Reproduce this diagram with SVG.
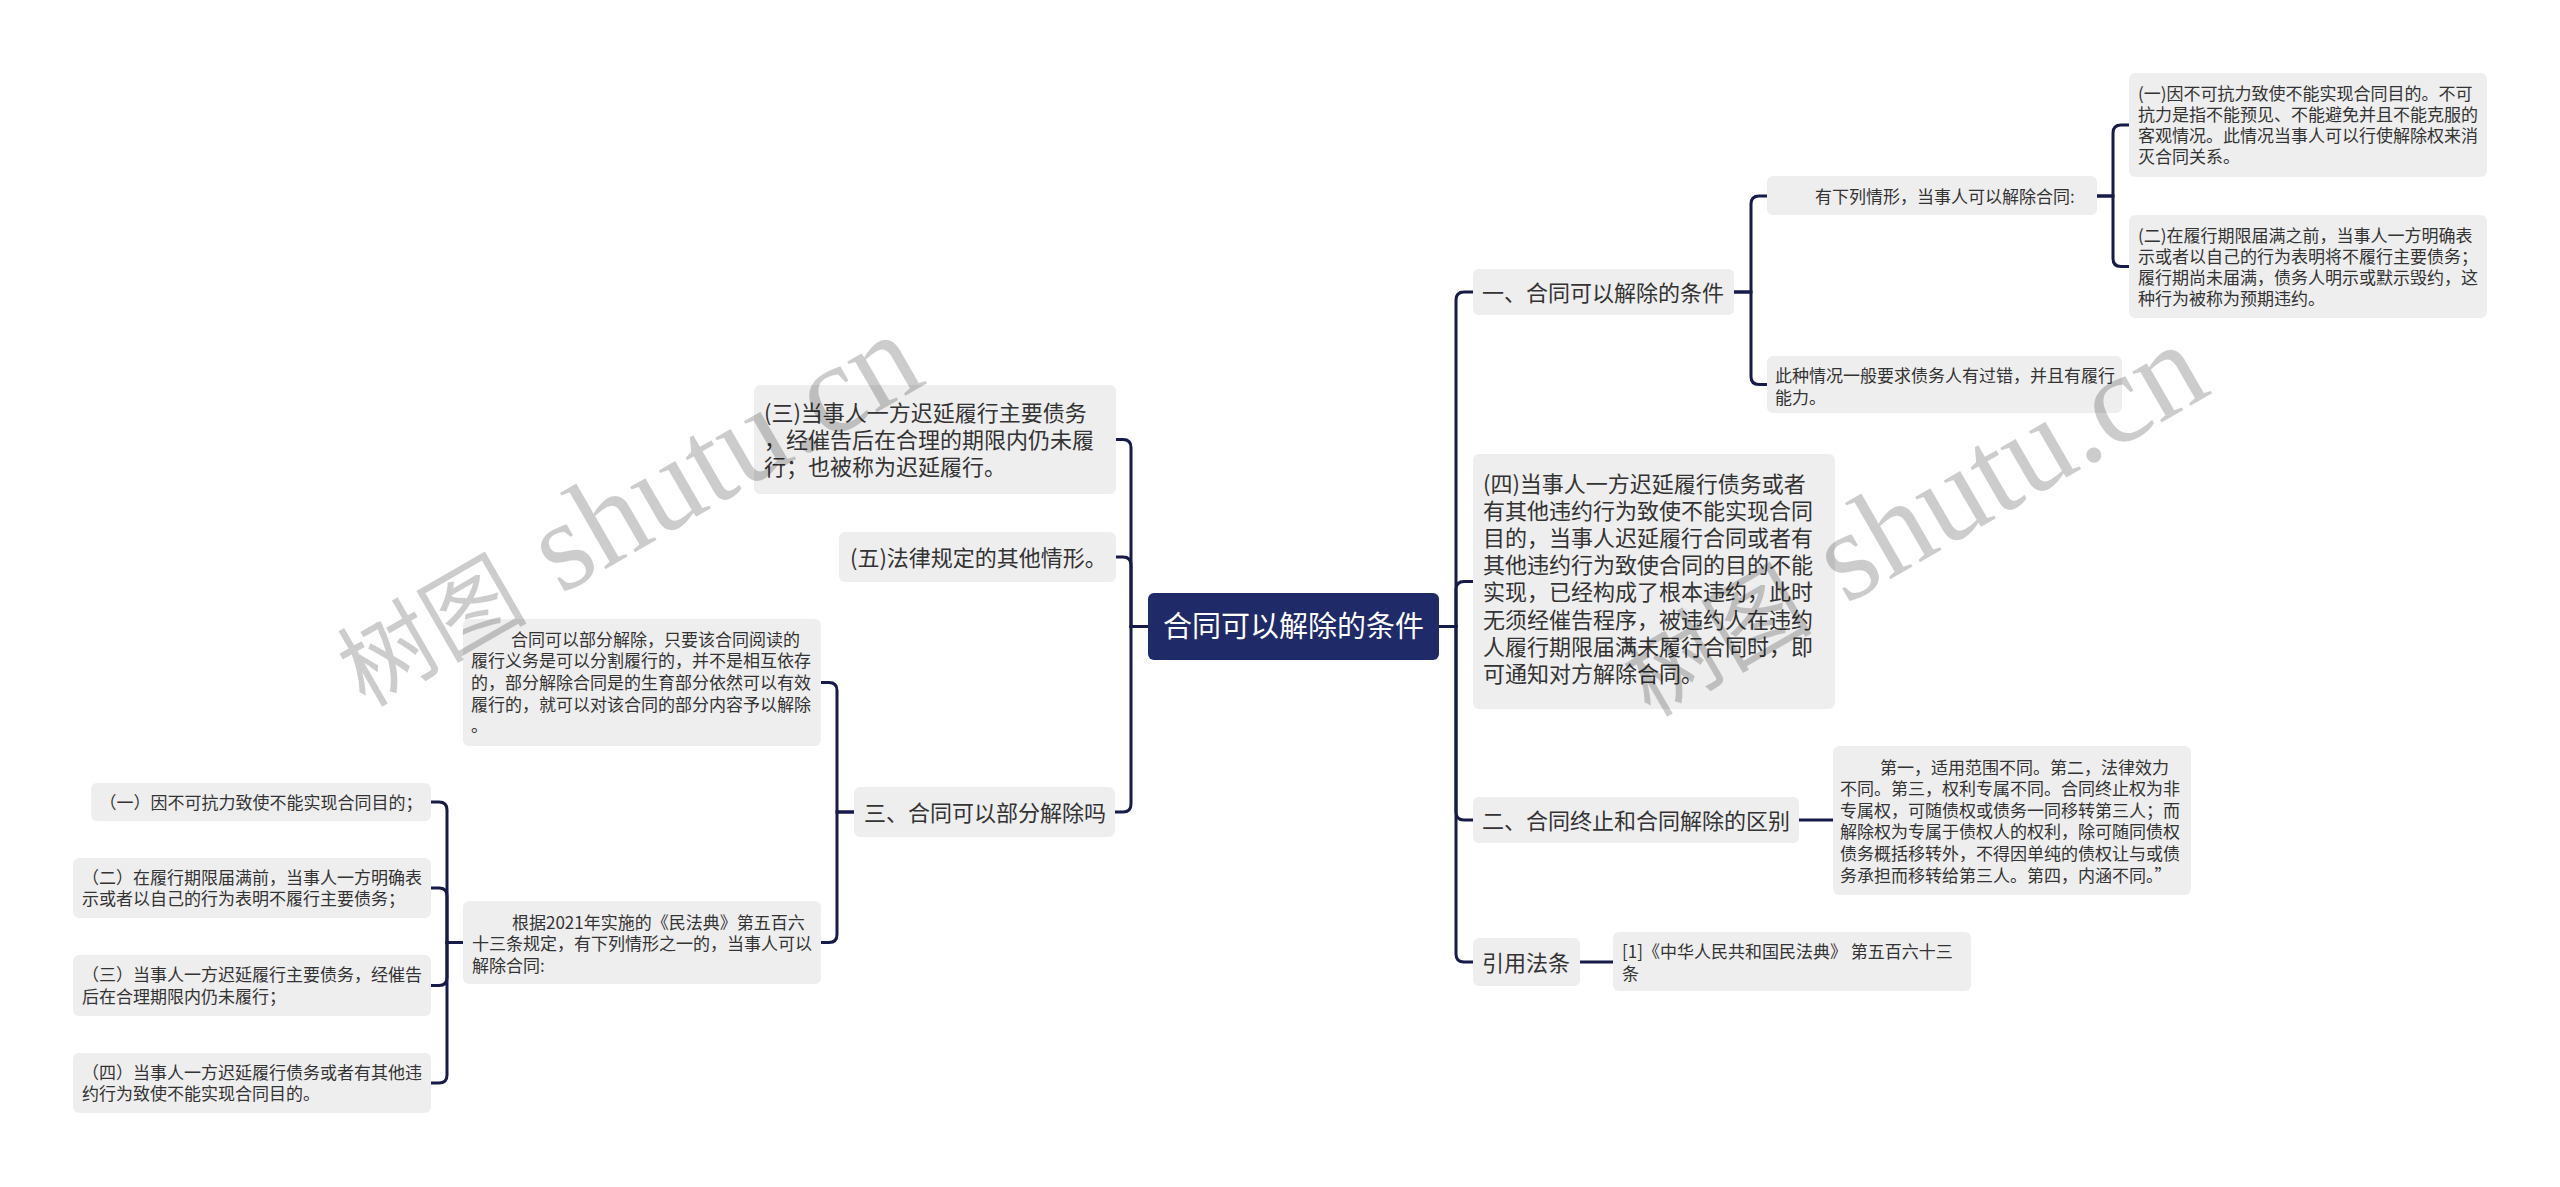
<svg xmlns="http://www.w3.org/2000/svg" width="2560" height="1187" viewBox="0 0 2560 1187">
<style>
.bg{fill:#ffffff}
.box{fill:#eeeeee}
.root{fill:#1f2a68}
.t1{font-family:"Noto Sans CJK SC","Noto Sans",sans-serif;font-size:22px;fill:#333333}
.t2{font-family:"Noto Sans CJK SC","Noto Sans",sans-serif;font-size:17px;fill:#333333}
.tr{font-family:"Noto Sans CJK SC","Noto Sans",sans-serif;font-size:29px;fill:#ffffff}
.edge{fill:none;stroke:#161b4a;stroke-width:3;stroke-linecap:round}
.wm{fill:#000000;fill-opacity:0.2}
.wmc{font-family:"Noto Sans CJK SC",sans-serif;font-size:95px}
.wml{font-family:"Liberation Serif",serif;font-size:128px}
</style>
<rect class="bg" x="0" y="0" width="2560" height="1187"/>

<g id="connectors">
<path class="edge" d="M1438,626.5 H1456 V300 Q1456,292 1464,292 H1473"/>
<path class="edge" d="M1438,626.5 H1456 V589.5 Q1456,581.5 1464,581.5 H1473"/>
<path class="edge" d="M1438,626.5 H1456 V812 Q1456,820 1464,820 H1473"/>
<path class="edge" d="M1438,626.5 H1456 V954 Q1456,962 1464,962 H1473"/>
<path class="edge" d="M1734,292 H1751 V204 Q1751,196 1759,196 H1767"/>
<path class="edge" d="M1734,292 H1751 V376.5 Q1751,384.5 1759,384.5 H1767"/>
<path class="edge" d="M2096,196 H2113 V133 Q2113,125 2121,125 H2129"/>
<path class="edge" d="M2096,196 H2113 V258.5 Q2113,266.5 2121,266.5 H2129"/>
<path class="edge" d="M1799,820 H1833"/>
<path class="edge" d="M1580,962 H1613"/>
<path class="edge" d="M1148,626.5 H1131 V447.5 Q1131,439.5 1123,439.5 H1116"/>
<path class="edge" d="M1148,626.5 H1131 V565 Q1131,557 1123,557 H1116"/>
<path class="edge" d="M1148,626.5 H1131 V804 Q1131,812 1123,812 H1115"/>
<path class="edge" d="M854,812 H837 V690.5 Q837,682.5 829,682.5 H821"/>
<path class="edge" d="M854,812 H837 V934.5 Q837,942.5 829,942.5 H821"/>
<path class="edge" d="M463,942.5 H447 V810 Q447,802 439,802 H431"/>
<path class="edge" d="M463,942.5 H447 V896 Q447,888 439,888 H431"/>
<path class="edge" d="M463,942.5 H447 V977.5 Q447,985.5 439,985.5 H431"/>
<path class="edge" d="M463,942.5 H447 V1075 Q447,1083 439,1083 H431"/>
</g>

<g id="root">
<rect class="root" x="1148" y="593" width="291" height="67" rx="6"/>
<text class="tr" x="1293.5" y="637" text-anchor="middle">合同可以解除的条件</text>
</g>

<g id="r1">
<rect class="box" x="1473" y="269" width="261" height="46" rx="6"/>
<text class="t1" x="1482" y="300.5">一、合同可以解除的条件</text>
</g>

<g id="r2">
<rect class="box" x="1473" y="454" width="362" height="255" rx="6"/>
<text class="t1">
<tspan x="1483" y="492">(四)当事人一方迟延履行债务或者</tspan>
<tspan x="1483" y="519.1">有其他违约行为致使不能实现合同</tspan>
<tspan x="1483" y="546.2">目的，当事人迟延履行合同或者有</tspan>
<tspan x="1483" y="573.3">其他违约行为致使合同的目的不能</tspan>
<tspan x="1483" y="600.4">实现，已经构成了根本违约，此时</tspan>
<tspan x="1483" y="627.5">无须经催告程序，被违约人在违约</tspan>
<tspan x="1483" y="654.6">人履行期限届满未履行合同时，即</tspan>
<tspan x="1483" y="681.7">可通知对方解除合同。</tspan>
</text>
</g>

<g id="r3">
<rect class="box" x="1473" y="797" width="326" height="46" rx="6"/>
<text class="t1" x="1482" y="828.5">二、合同终止和合同解除的区别</text>
</g>

<g id="r4">
<rect class="box" x="1473" y="938" width="107" height="48" rx="6"/>
<text class="t1" x="1482" y="970.5">引用法条</text>
</g>

<g id="r1a">
<rect class="box" x="1767" y="176" width="330" height="39" rx="6"/>
<text class="t2" x="1815" y="202.5">有下列情形，当事人可以解除合同:</text>
</g>

<g id="r1b">
<rect class="box" x="1767" y="356" width="355" height="57" rx="6"/>
<text class="t2">
<tspan x="1775" y="381.5">此种情况一般要求债务人有过错，并且有履行</tspan>
<tspan x="1775" y="403.5">能力。</tspan>
</text>
</g>

<g id="r1a1">
<rect class="box" x="2129" y="73" width="358" height="104" rx="6"/>
<text class="t2">
<tspan x="2138" y="99.5">(一)因不可抗力致使不能实现合同目的。不可</tspan>
<tspan x="2138" y="120.8">抗力是指不能预见、不能避免并且不能克服的</tspan>
<tspan x="2138" y="142.1">客观情况。此情况当事人可以行使解除权来消</tspan>
<tspan x="2138" y="163.4">灭合同关系。</tspan>
</text>
</g>

<g id="r1a2">
<rect class="box" x="2129" y="215" width="358" height="103" rx="6"/>
<text class="t2">
<tspan x="2138" y="241.5">(二)在履行期限届满之前，当事人一方明确表</tspan>
<tspan x="2138" y="262.8">示或者以自己的行为表明将不履行主要债务；</tspan>
<tspan x="2138" y="284.1">履行期尚未届满，债务人明示或默示毁约，这</tspan>
<tspan x="2138" y="305.4">种行为被称为预期违约。</tspan>
</text>
</g>

<g id="r3a">
<rect class="box" x="1833" y="746" width="358" height="149" rx="6"/>
<text class="t2">
<tspan x="1880" y="773.5">第一，适用范围不同。第二，法律效力</tspan>
<tspan x="1840" y="795.1">不同。第三，权利专属不同。合同终止权为非</tspan>
<tspan x="1840" y="816.7">专属权，可随债权或债务一同移转第三人；而</tspan>
<tspan x="1840" y="838.3">解除权为专属于债权人的权利，除可随同债权</tspan>
<tspan x="1840" y="859.9">债务概括移转外，不得因单纯的债权让与或债</tspan>
<tspan x="1840" y="881.5">务承担而移转给第三人。第四，内涵不同。”</tspan>
</text>
</g>

<g id="r4a">
<rect class="box" x="1613" y="932" width="358" height="59" rx="6"/>
<text class="t2">
<tspan x="1622" y="957.5">[1]《中华人民共和国民法典》 第五百六十三</tspan>
<tspan x="1622" y="980">条</tspan>
</text>
</g>

<g id="l1">
<rect class="box" x="754" y="385" width="362" height="109" rx="6"/>
<text class="t1">
<tspan x="764" y="421">(三)当事人一方迟延履行主要债务</tspan>
<tspan x="764" y="448">，经催告后在合理的期限内仍未履</tspan>
<tspan x="764" y="475">行；也被称为迟延履行。</tspan>
</text>
</g>

<g id="l2">
<rect class="box" x="839" y="532" width="277" height="50" rx="6"/>
<text class="t1" x="850" y="565.5">(五)法律规定的其他情形。</text>
</g>

<g id="l3">
<rect class="box" x="854" y="787" width="261" height="50" rx="6"/>
<text class="t1" x="864" y="820.5">三、合同可以部分解除吗</text>
</g>

<g id="l3a">
<rect class="box" x="463" y="619" width="358" height="127" rx="6"/>
<text class="t2">
<tspan x="511" y="645.5">合同可以部分解除，只要该合同阅读的</tspan>
<tspan x="471" y="667.2">履行义务是可以分割履行的，并不是相互依存</tspan>
<tspan x="471" y="688.9">的，部分解除合同是的生育部分依然可以有效</tspan>
<tspan x="471" y="710.6">履行的，就可以对该合同的部分内容予以解除</tspan>
<tspan x="471" y="732.3">。</tspan>
</text>
</g>

<g id="l3b">
<rect class="box" x="463" y="901" width="358" height="83" rx="6"/>
<text class="t2">
<tspan x="512" y="928.5">根据2021年实施的《民法典》第五百六</tspan>
<tspan x="472" y="950">十三条规定，有下列情形之一的，当事人可以</tspan>
<tspan x="472" y="971.5">解除合同:</tspan>
</text>
</g>

<g id="l3b1">
<rect class="box" x="91" y="783" width="340" height="38" rx="6"/>
<text class="t2" x="99.5" y="808.5">（一）因不可抗力致使不能实现合同目的；</text>
</g>

<g id="l3b2">
<rect class="box" x="73" y="858" width="358" height="60" rx="6"/>
<text class="t2">
<tspan x="82" y="883.7">（二）在履行期限届满前，当事人一方明确表</tspan>
<tspan x="82" y="905.3">示或者以自己的行为表明不履行主要债务；</tspan>
</text>
</g>

<g id="l3b3">
<rect class="box" x="73" y="955" width="358" height="61" rx="6"/>
<text class="t2">
<tspan x="82" y="981.2">（三）当事人一方迟延履行主要债务，经催告</tspan>
<tspan x="82" y="1002.8">后在合理期限内仍未履行；</tspan>
</text>
</g>

<g id="l3b4">
<rect class="box" x="73" y="1053" width="358" height="60" rx="6"/>
<text class="t2">
<tspan x="82" y="1078.7">（四）当事人一方迟延履行债务或者有其他违</tspan>
<tspan x="82" y="1100.3">约行为致使不能实现合同目的。</tspan>
</text>
</g>

<g id="watermarks" class="wm">
<g transform="translate(365,708) rotate(-30)">
<text class="wmc" x="0" y="0">树图</text>
<text class="wml" x="226" y="0" textLength="425" lengthAdjust="spacingAndGlyphs">shutu.cn</text>
</g>
<g transform="translate(1650,718) rotate(-30)">
<text class="wmc" x="0" y="0">树图</text>
<text class="wml" x="226" y="0" textLength="425" lengthAdjust="spacingAndGlyphs">shutu.cn</text>
</g>
</g>
</svg>
